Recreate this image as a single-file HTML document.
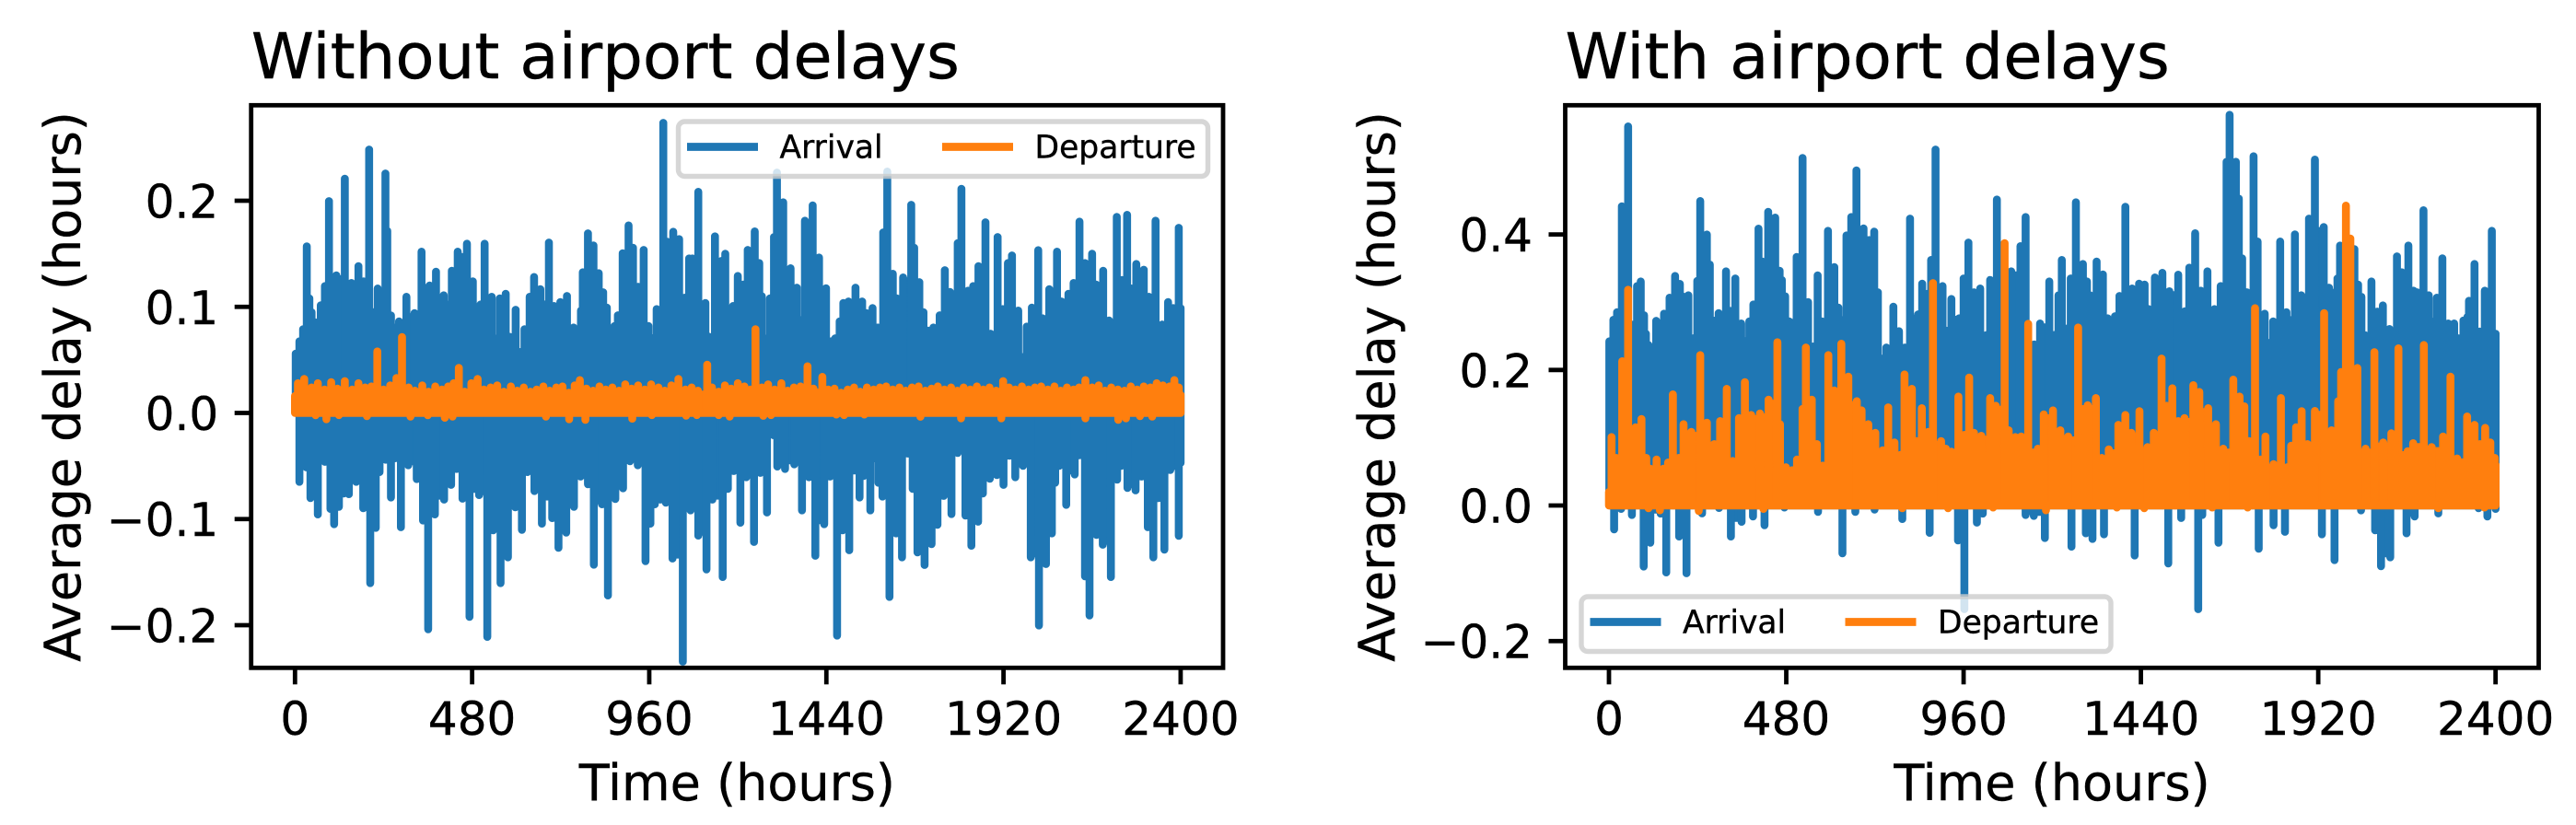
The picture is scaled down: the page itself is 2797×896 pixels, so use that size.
<!DOCTYPE html>
<html lang="en">
<head>
<meta charset="utf-8">
<title>Average delay with and without airport delays</title>
<style>
html,body{margin:0;padding:0;background:#fff;}
body{width:2797px;height:896px;overflow:hidden;}
svg{display:block;}
text{font-family:"DejaVu Sans","Liberation Sans",sans-serif;fill:#000;stroke:#000;stroke-width:.4px;}
</style>
</head>
<body>
<svg id="figure" xmlns="http://www.w3.org/2000/svg" width="2797" height="896" viewBox="0 0 2797 896"></svg>
<script>
const xTickValues = [0, 480, 960, 1440, 1920, 2400];
const xTickLabels = ['0', '480', '960', '1440', '1920', '2400'];
const leftYTickValues = [-0.2, -0.1, 0, 0.1, 0.2];
const leftYTickLabels = ['\u22120.2', '\u22120.1', '0.0', '0.1', '0.2'];
const rightYTickValues = [-0.2, 0, 0.2, 0.4];
const rightYTickLabels = ['\u22120.2', '0.0', '0.2', '0.4'];

// Each entry: [hour, average delay in hours], read from the plotted envelope.
const leftArrivalPeaks = [[2,.056],[12,.0675],[22,.079],[32,.157],[39,.108],[45,.095],[55,.0855],[70,.1014],[81,.1196],[92,.1997],[112,.1297],[135,.2208],[153,.1225],[172,.1384],[186,.124],[201,.2483],[213,.095],[224,.1173],[245,.2257],[250,.1716],[260,.092],[270,.0805],[282,.0863],[302,.1095],[324,.0941],[343,.152],[357,.1181],[365,.1202],[382,.1332],[403,.1109],[410,.1022],[417,.0666],[425,.134],[441,.152],[453,.147],[466,.1595],[482,.124],[493,.0826],[503,.1022],[514,.1595],[533,.1095],[546,.0704],[555,.108],[571,.1124],[582,.0718],[588,.0632],[598,.0973],[609,.0574],[622,.079],[636,.1095],[648,.1282],[665,.1167],[677,.1022],[688,.1606],[702,.1008],[719,.1045],[737,.1103],[755,.0805],[767,.0718],[775,.0965],[780,.1326],[794,.1693],[809,.1578],[823,.1317],[835,.1138],[845,.0993],[856,.069],[866,.082],[875,.0921],[888,.1505],[904,.1768],[916,.1557],[930,.119],[945,.1537],[958,.082],[969,.0704],[980,.0979],[998,.2734],[1008,.1615],[1025,.1708],[1041,.1638],[1056,.1086],[1068,.1456],[1077,.1456],[1093,.2084],[1112,.1037],[1121,.0719],[1138,.1664],[1155,.1433],[1166,.15],[1180,.0704],[1187,.1008],[1200,.1291],[1215,.121],[1227,.1537],[1246,.1711],[1258,.1413],[1265,.11],[1274,.0704],[1287,.108],[1298,.1658],[1306,.2266],[1323,.1985],[1343,.1364],[1360,.1181],[1369,.0878],[1382,.1812],[1403,.1957],[1420,.1465],[1439,.1176],[1453,.0675],[1464,.0704],[1476,.0863],[1486,.1037],[1500,.1051],[1519,.1181],[1537,.1051],[1549,.0941],[1565,.0988],[1579,.0805],[1594,.1702],[1605,.2275],[1620,.1312],[1631,.108],[1641,.0849],[1648,.1277],[1670,.1962],[1678,.1557],[1692,.1233],[1703,.095],[1716,.0776],[1730,.0805],[1747,.0921],[1761,.1346],[1775,.114],[1786,.0935],[1796,.1601],[1806,.2113],[1824,.1152],[1838,.1196],[1852,.1384],[1871,.1797],[1885,.0747],[1904,.1658],[1918,.0979],[1932,.1413],[1943,.1485],[1960,.0965],[1969,.053],[1983,.0814],[1997,.0993],[2014,.1534],[2026,.0892],[2044,.1167],[2065,.152],[2077,.1051],[2096,.1124],[2110,.1225],[2126,.1803],[2141,.1413],[2160,.15],[2171,.121],[2179,.0675],[2190,.134],[2206,.0872],[2227,.1847],[2241,.1254],[2255,.1867],[2267,.1173],[2280,.1404],[2300,.135],[2314,.1095],[2332,.1812],[2350,.0834],[2366,.1045],[2380,.0988],[2395,.1745],[2400,.0988]];
const leftArrivalTroughs = [[12,-.0649],[31,-.0513],[42,-.0803],[62,-.0956],[81,-.0461],[96,-.0904],[106,-.1048],[119,-.0884],[132,-.0759],[146,-.0765],[166,-.0649],[185,-.0898],[204,-.1604],[219,-.1083],[229,-.0557],[246,-.0441],[260,-.0797],[271,-.0427],[287,-.1077],[307,-.0493],[330,-.0623],[347,-.1014],[361,-.2038],[379,-.0956],[404,-.0817],[423,-.0678],[438,-.0528],[454,-.0808],[473,-.1922],[486,-.0716],[499,-.0774],[521,-.211],[537,-.1106],[557,-.1604],[577,-.1361],[597,-.0889],[615,-.1101],[630,-.0557],[649,-.0736],[669,-.1043],[683,-.0788],[697,-.0991],[714,-.1271],[735,-.1127],[756,-.0884],[774,-.06],[794,-.0672],[810,-.143],[832,-.0861],[848,-.172],[868,-.0811],[889,-.071],[908,-.0456],[929,-.0493],[950,-.1396],[963,-.1043],[975,-.0861],[990,-.0817],[1005,-.0846],[1023,-.1372],[1051,-.2344],[1072,-.0918],[1093,-.1156],[1115,-.1474],[1131,-.0817],[1159,-.1546],[1173,-.0716],[1189,-.0548],[1207,-.1034],[1223,-.0606],[1244,-.1216],[1261,-.0565],[1279,-.0938],[1297,-.021],[1307,-.0505],[1328,-.0528],[1353,-.0484],[1374,-.0918],[1393,-.0606],[1410,-.1346],[1434,-.1048],[1450,-.06],[1469,-.2098],[1484,-.1106],[1502,-.1294],[1516,-.0542],[1530,-.0797],[1541,-.0594],[1559,-.0918],[1573,-.0427],[1581,-.0658],[1592,-.0788],[1611,-.1734],[1629,-.1135],[1645,-.1361],[1660,-.0383],[1674,-.0716],[1687,-.1315],[1706,-.1433],[1725,-.1236],[1741,-.1054],[1758,-.0782],[1779,-.0953],[1796,-.0377],[1817,-.0967],[1833,-.1251],[1851,-.1025],[1864,-.0759],[1883,-.062],[1902,-.0586],[1920,-.0678],[1936,-.0403],[1952,-.0606],[1973,-.0499],[1994,-.1361],[2016,-.2003],[2035,-.1424],[2051,-.1135],[2060,-.0658],[2071,-.0499],[2090,-.0866],[2113,-.058],[2125,-.0398],[2141,-.154],[2153,-.1908],[2172,-.115],[2189,-.1242],[2211,-.1546],[2228,-.0629],[2239,-.0499],[2256,-.0707],[2278,-.073],[2294,-.06],[2311,-.1077],[2326,-.1361],[2340,-.0803],[2356,-.1288],[2372,-.0537],[2395,-.1158],[2400,-.047]];
const leftDeparturePeaks = [[0,.016],[8,.028],[25,.032],[45,.024],[62,.028],[80,.022],[98,.029],[115,.023],[135,.03],[155,.022],[172,.028],[190,.024],[207,.025],[223,.058],[240,.022],[258,.026],[275,.033],[290,.0715],[308,.024],[325,.021],[345,.026],[362,.02],[380,.025],[398,.022],[415,.025],[430,.028],[444,.0425],[460,.02],[478,.028],[495,.032],[512,.022],[530,.024],[548,.026],[566,.02],[585,.025],[602,.021],[620,.024],[638,.02],[655,.022],[673,.025],[690,.021],[708,.024],[725,.025],[742,.019],[758,.026],[772,.031],[790,.023],[808,.021],[825,.025],[842,.022],[860,.024],[878,.021],[895,.027],[912,.023],[930,.026],[948,.022],[965,.027],[985,.024],[1002,.021],[1020,.026],[1039,.032],[1058,.022],[1075,.024],[1092,.021],[1117,.0455],[1130,.024],[1148,.02],[1165,.026],[1182,.023],[1200,.028],[1218,.025],[1235,.022],[1248,.079],[1265,.024],[1282,.027],[1300,.022],[1318,.028],[1335,.021],[1352,.024],[1370,.025],[1389,.044],[1405,.023],[1429,.034],[1445,.022],[1462,.023],[1480,.019],[1498,.022],[1515,.024],[1532,.02],[1550,.024],[1568,.022],[1585,.024],[1602,.025],[1620,.022],[1638,.024],[1655,.021],[1672,.024],[1690,.025],[1708,.021],[1725,.023],[1742,.025],[1760,.022],[1778,.024],[1795,.021],[1812,.024],[1830,.022],[1848,.025],[1865,.022],[1882,.024],[1900,.021],[1919,.03],[1935,.024],[1952,.022],[1970,.025],[1988,.022],[2005,.024],[2022,.025],[2040,.022],[2058,.025],[2075,.021],[2092,.024],[2110,.022],[2125,.024],[2142,.031],[2160,.024],[2178,.026],[2195,.021],[2212,.024],[2230,.022],[2248,.021],[2265,.025],[2282,.022],[2300,.025],[2318,.024],[2335,.028],[2352,.026],[2370,.025],[2383,.031],[2395,.024],[2400,.017]];
const leftDepartureTroughs = [[56,-.0022],[85,-.0059],[119,-.002],[195,-.003],[313,-.0035],[360,-.0022],[406,-.0045],[427,-.0035],[680,-.0035],[743,-.0059],[787,-.0065],[914,-.0054],[967,-.002],[1060,-.0025],[1089,-.002],[1148,-.002],[1178,-.0035],[1269,-.0027],[1290,-.002],[1467,-.0015],[1488,-.002],[1543,-.0015],[1695,-.0036],[1805,-.005],[1914,-.005],[2142,-.005],[2231,-.0065],[2252,-.005],[2290,-.003],[2323,-.0035]];

const rightArrivalPeaks = [[1,.2423],[12,.274],[22,.2853],[35,.4416],[52,.5593],[67,.2672],[76,.3238],[86,.3306],[95,.2808],[100,.2536],[107,.2368],[115,.231],[128,.2726],[142,.2174],[149,.283],[164,.3066],[179,.3387],[192,.327],[203,.308],[215,.3102],[228,.2468],[239,.3315],[247,.4493],[265,.3999],[273,.3555],[282,.2731],[297,.284],[317,.3455],[326,.2876],[342,.3351],[358,.2686],[369,.2423],[380,.2717],[391,.2966],[405,.4085],[415,.36],[431,.4334],[450,.4248],[462,.3465],[468,.3329],[477,.3088],[488,.2717],[502,.2704],[508,.3668],[524,.5127],[539,.3003],[552,.2346],[565,.3397],[577,.2717],[593,.4053],[610,.3519],[621,.2921],[629,.274],[643,.3985],[656,.4257],[670,.4946],[689,.409],[704,.3917],[718,.404],[728,.3147],[735,.2174],[751,.2332],[770,.2935],[785,.2572],[801,.2332],[815,.4234],[828,.2762],[837,.2821],[848,.3274],[862,.3125],[872,.3623],[884,.5253],[903,.3238],[913,.2581],[927,.3048],[938,.274],[948,.2762],[960,.3351],[973,.3881],[988,.3147],[1005,.3202],[1021,.2513],[1032,.3329],[1050,.4515],[1061,.3442],[1075,.3],[1089,.3455],[1114,.3827],[1128,.4257],[1151,.2377],[1167,.2686],[1192,.3306],[1208,.2522],[1217,.3102],[1226,.3623],[1245,.2627],[1250,.3351],[1264,.4474],[1283,.3564],[1294,.3306],[1303,.3102],[1320,.36],[1337,.341],[1350,.2762],[1370,.2794],[1382,.3093],[1398,.4407],[1416,.3202],[1435,.3274],[1450,.3261],[1461,.2898],[1467,.2423],[1478,.3365],[1498,.3433],[1517,.3161],[1541,.3406],[1559,.2867],[1571,.351],[1587,.4017],[1602,.317],[1620,.3455],[1639,.2898],[1656,.3238],[1672,.5072],[1680,.5765],[1697,.5072],[1705,.4529],[1714,.3646],[1727,.3147],[1735,.2876],[1745,.5154],[1756,.3895],[1775,.283],[1787,.24],[1798,.2717],[1817,.3895],[1834,.2853],[1842,.274],[1857,.4],[1874,.3102],[1885,.2332],[1895,.4234],[1911,.5104],[1935,.4108],[1949,.3215],[1956,.3147],[1972,.3351],[1979,.3836],[1990,.33],[2005,.37],[2018,.3782],[2028,.3261],[2037,.308],[2047,.2513],[2064,.3306],[2080,.2862],[2095,.2953],[2113,.2604],[2133,.3677],[2146,.3442],[2164,.3836],[2178,.317],[2188,.3147],[2205,.4357],[2219,.3102],[2227,.2717],[2241,.3066],[2256,.3646],[2272,.2686],[2288,.2686],[2300,.2468],[2313,.2731],[2324,.2785],[2328,.302],[2343,.3564],[2357,.2568],[2371,.317],[2380,.3147],[2390,.4053],[2400,.2536]];
const rightArrivalTroughs = [[14,-.0353],[33,-.005],[62,-.014],[94,-.09],[112,-.0548],[140,-.012],[155,-.0987],[190,-.0457],[210,-.1],[252,-.0117],[298,-.0036],[330,-.0457],[359,-.024],[390,-.0163],[421,-.029],[475,-.003],[566,-.0095],[632,-.0706],[667,-.0095],[719,-.006],[794,-.02],[868,-.0403],[945,-.0516],[962,-.153],[996,-.0253],[1012,-.012],[1128,-.014],[1150,-.0153],[1180,-.048],[1252,-.0607],[1291,-.041],[1309,-.0493],[1340,-.0425],[1423,-.0738],[1514,-.0855],[1549,-.0185],[1595,-.153],[1606,-.014],[1650,-.0548],[1759,-.0638],[1799,-.029],[1830,-.0389],[1930,-.0425],[1964,-.0806],[2036,-.0072],[2074,-.0366],[2090,-.0896],[2115,-.0765],[2159,-.041],[2181,-.0163],[2245,-.0117],[2354,-.004],[2378,-.0163],[2400,-.005]];
const rightDeparturePeaks = [[0,.02],[7,.101],[20,.0702],[36,.2129],[52,.3184],[72,.1155],[88,.1277],[101,.0702],[112,.0544],[129,.068],[147,.0544],[160,.0634],[173,.164],[189,.0702],[202,.12],[223,.1087],[247,.2219],[265,.1223],[285,.0906],[301,.1246],[319,.1721],[335,.0657],[352,.1291],[368,.1821],[385,.1336],[409,.1359],[432,.1563],[456,.2409],[463,.12],[479,.0566],[496,.0521],[509,.068],[524,.1427],[533,.2332],[549,.1563],[563,.0906],[579,.0589],[594,.2219],[610,.1698],[629,.2387],[648,.1902],[671,.154],[684,.1404],[702,.12],[721,.1073],[741,.0815],[756,.1449],[773,.0929],[789,.0747],[800,.1934],[820,.1721],[833,.0951],[847,.1436],[864,.1087],[877,.3283],[899,.0951],[912,.0838],[927,.0793],[946,.1608],[962,.1042],[975,.1889],[988,.1073],[1008,.1028],[1032,.1585],[1047,.1472],[1071,.3872],[1082,.111],[1100,.101],[1116,.1019],[1135,.2681],[1161,.0838],[1177,.1345],[1202,.1404],[1222,.111],[1243,.1019],[1270,.2627],[1296,.1481],[1318,.1585],[1334,.0702],[1353,.0829],[1379,.1191],[1398,.1336],[1414,.1073],[1436,.1391],[1458,.0861],[1475,.1073],[1496,.2169],[1510,.1472],[1525,.173],[1541,.1246],[1558,.1291],[1582,.1776],[1598,.1676],[1622,.1436],[1643,.12],[1663,.0838],[1690,.1857],[1707,.1608],[1720,.1463],[1733,.0951],[1749,.2912],[1764,.0679],[1777,.1019],[1799,.0611],[1819,.1585],[1836,.0566],[1847,.0883],[1860,.1155],[1875,.1391],[1891,.0906],[1911,.1395],[1936,.284],[1956,.111],[1974,.154],[1982,.197],[1995,.4425],[2007,.394],[2026,.2029],[2048,.0838],[2072,.2264],[2096,.0929],[2118,.1065],[2137,.2319],[2162,.0802],[2177,.092],[2206,.2368],[2227,.0861],[2258,.1019],[2278,.1902],[2296,.0694],[2323,.1314],[2343,.1191],[2358,.0906],[2372,.1146],[2386,.0929],[2398,.0702],[2400,.06]];
const rightDepartureTroughs = [[107,-.004],[138,-.007],[243,-.008],[418,-.005],[794,-.004],[918,-.004],[1040,-.003],[1183,-.007],[1375,-.003],[1449,-.004],[1633,-.003],[1729,-.003],[2245,-.004],[2370,-.003]];

const svgNS = 'http://www.w3.org/2000/svg';
const figure = document.getElementById('figure');

function el(tag, attrs, parent) {
  const node = document.createElementNS(svgNS, tag);
  for (const key in attrs) node.setAttribute(key, attrs[key]);
  parent.appendChild(node);
  return node;
}

function linearScale(domainA, domainB, rangeA, rangeB) {
  return v => rangeA + (v - domainA) * (rangeB - rangeA) / (domainB - domainA);
}

// Vertical excursions from the zero line, in time order, as one continuous line.
function seriesPath(peaks, troughs, xScale, yScale) {
  const ordered = peaks.concat(troughs).slice().sort((a, b) => a[0] - b[0]);
  const zero = yScale(0).toFixed(1);
  let d = '';
  ordered.forEach(function (point, i) {
    const px = xScale(point[0]).toFixed(1);
    d += (i === 0 ? 'M' : 'L') + px + ' ' + zero + 'L' + px + ' ' + yScale(point[1]).toFixed(1) + 'L' + px + ' ' + zero;
  });
  return d;
}

// Stepped outline of one side of the band: between two close neighbours the
// solid core reaches only as far as the smaller one; across a gap wider than
// maxGap it stays on the zero line.
function skyline(points, pick, maxGap, xScale, yScale) {
  const out = [];
  points.forEach(function (point, i) {
    out.push(xScale(point[0]).toFixed(1) + ' ' + yScale(point[1]).toFixed(1));
    const next = points[i + 1];
    if (next) {
      const close = next[0] - point[0] <= maxGap;
      const level = yScale(close ? pick(point[1], next[1]) : 0).toFixed(1);
      out.push(xScale(point[0]).toFixed(1) + ' ' + level);
      out.push(xScale(next[0]).toFixed(1) + ' ' + level);
    }
  });
  return out;
}

function bodyPath(peaks, troughs, xScale, yScale) {
  const upper = skyline(peaks, Math.min, Infinity, xScale, yScale);
  const lower = skyline(troughs, Math.max, 30, xScale, yScale).reverse();
  return 'M' + upper.concat(lower).join('L') + 'Z';
}

function drawSeries(plot, peaks, troughs, color, xScale, yScale, name) {
  const body = el('path', { d: bodyPath(peaks, troughs, xScale, yScale), fill: color, stroke: 'none' }, plot);
  
  
  const line = el('path', { d: seriesPath(peaks, troughs, xScale, yScale), stroke: color }, plot);
  
  
}

function drawPanel(panel) {
  const group = el('g', {}, figure);
  
  

  const xScale = linearScale(panel.xDomain[0], panel.xDomain[1], panel.left, panel.right);
  const yScale = linearScale(panel.yDomain[0], panel.yDomain[1], panel.bottom, panel.top);

  const clip = el('clipPath', { id: panel.name + '-clip' }, group);
  el('rect', { x: panel.left, y: panel.top, width: panel.right - panel.left, height: panel.bottom - panel.top }, clip);

  const plot = el('g', { 'clip-path': 'url(#' + panel.name + '-clip)', fill: 'none', 'stroke-width': 8.6, 'stroke-linejoin': 'round' }, group);
  drawSeries(plot, panel.arrivalPeaks, panel.arrivalTroughs, '#1f77b4', xScale, yScale, 'arrival');
  drawSeries(plot, panel.departurePeaks, panel.departureTroughs, '#ff7f0e', xScale, yScale, 'departure');

  const frame = el('rect', { x: panel.left, y: panel.top, width: panel.right - panel.left, height: panel.bottom - panel.top, fill: 'none', stroke: '#000', 'stroke-width': 4.8 }, group);
  
  

  xTickValues.forEach(function (value, i) {
    const px = xScale(value);
    const tick = el('line', { x1: px, x2: px, y1: panel.bottom, y2: panel.bottom + 18, stroke: '#000', 'stroke-width': 4.8 }, group);
    
    
    const label = el('text', { x: px, y: 798, 'text-anchor': 'middle', 'font-size': 50 }, group);
    label.textContent = xTickLabels[i];
    
    
  });

  panel.yTicks.forEach(function (value, i) {
    const py = yScale(value);
    const tick = el('line', { x1: panel.left - 18, x2: panel.left, y1: py, y2: py, stroke: '#000', 'stroke-width': 4.8 }, group);
    
    
    const label = el('text', { x: panel.left - 35.5, y: py + 18.5, 'text-anchor': 'end', 'font-size': 50 }, group);
    label.textContent = panel.yLabels[i];
    
    
  });

  const title = el('text', { x: panel.left, y: 85, 'font-size': 69 }, group);
  title.textContent = panel.title;
  
  

  const xTitle = el('text', { x: (panel.left + panel.right) / 2, y: 869, 'text-anchor': 'middle', 'font-size': 54 }, group);
  xTitle.textContent = 'Time (hours)';
  
  

  const yTitleX = panel.left - 185.7;
  const yTitle = el('text', { x: yTitleX, y: 420, 'text-anchor': 'middle', 'font-size': 54, transform: 'rotate(-90 ' + yTitleX + ' 420)' }, group);
  yTitle.textContent = 'Average delay (hours)';
  
  

  const lg = panel.legend;
  const legend = el('g', {}, group);
  
  
  el('rect', { x: lg.x, y: lg.y, width: 575, height: 59.5, rx: 7, ry: 7, fill: '#fff', 'fill-opacity': 0.8, stroke: '#ccc', 'stroke-opacity': 0.8, 'stroke-width': 5.4 }, legend);
  const swatchY = lg.y + 27.5;
  const textY = lg.y + 39.7;
  const arrivalSwatch = el('line', { x1: lg.x + 9.5, x2: lg.x + 86.5, y1: swatchY, y2: swatchY, stroke: '#1f77b4', 'stroke-width': 8.8 }, legend);
  
  
  const arrivalText = el('text', { x: lg.x + 110, y: textY, 'font-size': 34.5 }, legend);
  arrivalText.textContent = 'Arrival';
  
  
  const departureSwatch = el('line', { x1: lg.x + 286.5, x2: lg.x + 363.5, y1: swatchY, y2: swatchY, stroke: '#ff7f0e', 'stroke-width': 8.8 }, legend);
  
  
  const departureText = el('text', { x: lg.x + 387, y: textY, 'font-size': 34.5 }, legend);
  departureText.textContent = 'Departure';
  
  
}

drawPanel({
  name: 'panel-without-airport-delays',
  title: 'Without airport delays',
  left: 272.7, right: 1328, top: 114.3, bottom: 725.3,
  xDomain: [-118.8, 2515], yDomain: [-0.2402, 0.29],
  yTicks: leftYTickValues, yLabels: leftYTickLabels,
  arrivalPeaks: leftArrivalPeaks, arrivalTroughs: leftArrivalTroughs,
  departurePeaks: leftDeparturePeaks, departureTroughs: leftDepartureTroughs,
  legend: { x: 736.5, y: 132 }
});

drawPanel({
  name: 'panel-with-airport-delays',
  title: 'With airport delays',
  left: 1699.5, right: 2756.5, top: 114.3, bottom: 725.3,
  xDomain: [-118.4, 2516.8], yDomain: [-0.2395, 0.5906],
  yTicks: rightYTickValues, yLabels: rightYTickLabels,
  arrivalPeaks: rightArrivalPeaks, arrivalTroughs: rightArrivalTroughs,
  departurePeaks: rightDeparturePeaks, departureTroughs: rightDepartureTroughs,
  legend: { x: 1717, y: 648 }
});
</script>
</body>
</html>
